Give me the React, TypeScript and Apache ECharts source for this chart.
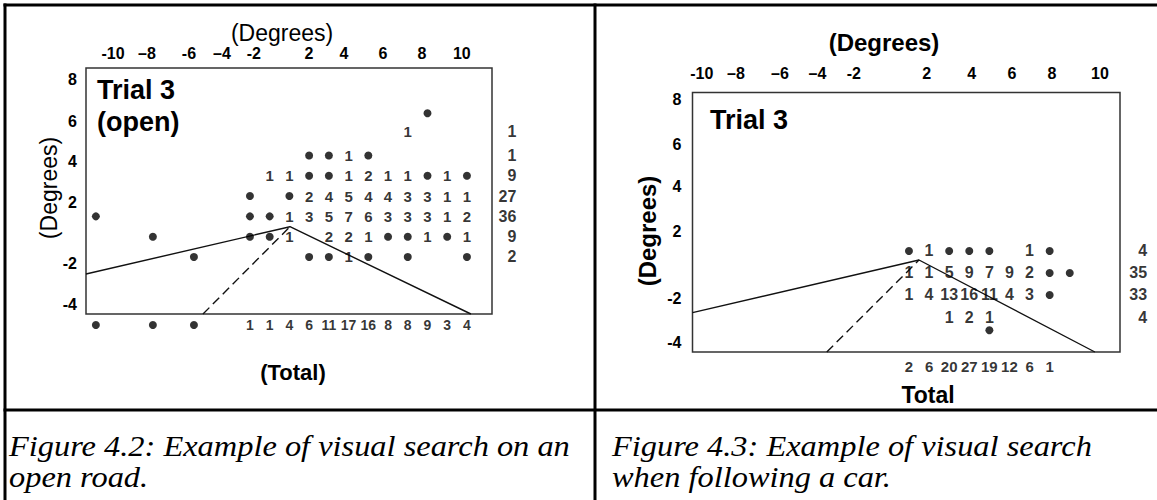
import React, { useEffect, useRef } from 'react';
import * as echarts from 'echarts';

const SANS = 'Liberation Sans, Arial, Helvetica, sans-serif';
const SERIF = 'Liberation Serif, Times New Roman, Times, serif';

// ---------------- Figure 4.2 : open road (left panel) ----------------
// x unit = one grid column, y unit = one grid row
const leftXTickLabels = ['-10', '–8', '-6', '–4', '-2', '2', '4', '6', '8', '10'];
const leftXTickPos = [-6.94, -5.22, -3.09, -1.42, 0.2, 2.99, 4.76, 6.74, 8.72, 10.74];
const leftYTickLabels = ['8', '6', '4', '2', '-2', '-4'];
const leftYTickPos = [7.72, 5.67, 3.69, 1.67, -1.31, -3.33];
const leftRowY = [6.08, 5.2, 4, 3, 2, 1, 0, -1];
// '•' = single fixation dot, '' = empty cell; columns 0..11
const leftCells = [
  ['', '', '', '', '', '', '', '', '', '•', '', ''],
  ['', '', '', '', '', '', '', '', '1', '', '', ''],
  ['', '', '', '•', '•', '1', '•', '', '', '', '', ''],
  ['', '1', '1', '•', '•', '1', '2', '1', '1', '•', '1', '•'],
  ['•', '', '•', '2', '4', '5', '4', '4', '3', '3', '1', '1'],
  ['•', '•', '1', '3', '5', '7', '6', '3', '3', '3', '1', '2'],
  ['•', '•', '1', '', '2', '2', '1', '•', '•', '1', '•', '1'],
  ['', '', '', '•', '•', '1', '•', '', '•', '', '', '•'],
];
const leftOuterCols = [-7.81, -4.92, -2.84];
const leftOuterRows = [1, 0, -1];
const leftRowTotals = ['1', '1', '9', '27', '36', '9', '2'];
const leftRowTotalY = [5.2, 4, 3, 2, 1, 0, -1];
const leftColTotals = ['1', '1', '4', '6', '11', '17', '16', '8', '8', '9', '3', '4'];
const leftRoadSolid = [[-8.31, -1.84], [2.03, 0.49], [11.2, -3.81]];
const leftRoadDashed = [[-2.38, -3.81], [2.03, 0.49]];
const leftRange = { xMin: -8.31, xMax: 12.27, yMin: -3.81, yMax: 8.31, rowTotalX: 13.53, colTotalY: -4.35 };

// ---------------- Figure 4.3 : following a car (right panel) ----------------
const rightXTickLabels = ['-10', '–8', '–6', '–4', '-2', '2', '4', '6', '8', '10'];
const rightXTickPos = [-10.31, -8.61, -6.42, -4.55, -2.74, 0.88, 3.12, 5.12, 7.11, 9.5];
const rightYTickLabels = ['8', '6', '4', '2', '-2', '-4'];
const rightYTickPos = [6.86, 4.82, 2.92, 0.88, -2.15, -4.15];
const rightRowY = [0, -1, -2, -3, -3.6];
const rightCells = [
  ['•', '1', '•', '•', '•', '', '1', '•', ''],
  ['1', '1', '5', '9', '7', '9', '2', '•', '•'],
  ['1', '4', '13', '16', '11', '4', '3', '•', ''],
  ['', '', '1', '2', '1', '', '', '', ''],
  ['', '', '', '', '•', '', '', '', ''],
];
const rightRowTotals = ['4', '35', '33', '4'];
const rightRowTotalY = [0, -1, -2, -3];
const rightColTotals = ['2', '6', '20', '27', '19', '12', '6', '1'];
const rightRoadSolid = [[-10.77, -2.8], [0.5, -0.41], [9.25, -4.59]];
const rightRoadDashed = [[-4.09, -4.59], [0.5, -0.41]];
const rightRange = { xMin: -10.77, xMax: 10.5, yMin: -4.59, yMax: 7.2, rowTotalX: 11.87, colTotalY: -5.23 };

const nearestLabel = (pos: number[], labels: string[]) => (v: number) => {
  let b = 0;
  for (let i = 1; i < pos.length; i++) if (Math.abs(pos[i] - v) < Math.abs(pos[b] - v)) b = i;
  return '{t|' + labels[b] + '}';
};

const tickFont = { color: '#000', fontFamily: SANS, fontWeight: 'bold' as const, fontSize: 16 };
const tickRich = { t: { color: '#000', fontFamily: SANS, fontWeight: 'bold', fontSize: 16, lineHeight: 17 } };

function buildPanel(gi: number, p: any) {
  const dots: number[][] = [];
  const nums: any[] = [];
  p.cells.forEach((row: string[], i: number) =>
    row.forEach((c, j) => {
      if (c === '•') dots.push([j, p.rowY[i]]);
      else if (c) nums.push({ name: c, value: [j, p.rowY[i]] });
    })
  );
  (p.outerCols || []).forEach((x: number, i: number) => {
    dots.push([x, p.outerRows[i]]);
    dots.push([x, p.range.colTotalY]);
  });
  const rowTotals = p.rowTotals.map((t: string, i: number) => ({ name: t, value: [p.range.rowTotalX, p.rowTotalY[i]] }));
  const colTotals = p.colTotals.map((t: string, j: number) => ({ name: t, value: [j, p.range.colTotalY] }));

  const xAxis = {
    type: 'value', gridIndex: gi, min: p.range.xMin, max: p.range.xMax, position: 'top',
    axisLine: { show: false }, axisTick: { show: false }, splitLine: { show: false },
    axisLabel: { ...tickFont, rich: tickRich, customValues: p.xPos, formatter: nearestLabel(p.xPos, p.xLabels), margin: p.xMargin },
  };
  const yAxis = {
    type: 'value', gridIndex: gi, min: p.range.yMin, max: p.range.yMax,
    axisLine: { show: false }, axisTick: { show: false }, splitLine: { show: false },
    axisLabel: { ...tickFont, rich: tickRich, customValues: p.yPos, formatter: nearestLabel(p.yPos, p.yLabels), margin: p.yMargin },
  };
  const common = { xAxisIndex: gi, yAxisIndex: gi, silent: true, clip: false, animation: false };
  const textSeries = (data: any[], size: number, position: any) => ({
    type: 'scatter', ...common, data, symbolSize: 1,
    itemStyle: { color: 'rgba(0,0,0,0)' },
    label: { show: true, position, distance: 0, formatter: '{b}', color: '#000', textBorderWidth: 0, fontFamily: SANS, fontWeight: 'bold', fontSize: size },
    z: 4,
  });
  const series = [
    { type: 'line', ...common, data: p.solid, symbol: 'none', lineStyle: { color: '#111', width: 1.4 }, z: 2 },
    { type: 'line', ...common, data: p.dashed, symbol: 'none', lineStyle: { color: '#111', width: 1.4, type: [9, 5] }, z: 2 },
    { type: 'scatter', ...common, data: dots, symbol: 'circle', symbolSize: 8, itemStyle: { color: '#000' }, z: 3 },
    textSeries(nums, p.numSize, 'inside'),
    textSeries(rowTotals, p.totSize, 'left'),
    textSeries(colTotals, p.colSize, 'inside'),
  ];
  return { xAxis, yAxis, series };
}

const t = (text: string, x: number, y: number, size: number, extra: any = {}, el: any = {}) => ({
  type: 'text', x, y, z: 20, silent: true, ...el,
  style: { text, fill: '#000', fontFamily: SANS, fontSize: size, align: 'center', verticalAlign: 'middle', ...extra },
});
const ln = (x1: number, y1: number, x2: number, y2: number) => ({
  type: 'line', z: 20, silent: true, shape: { x1, y1, x2, y2 }, style: { stroke: '#000', lineWidth: 3 },
});

export default function App() {
  const ref = useRef<HTMLDivElement>(null);
  useEffect(() => {
    const chart = echarts.init(ref.current!, null, { renderer: 'svg' });
    const L = buildPanel(0, {
      cells: leftCells, rowY: leftRowY, outerCols: leftOuterCols, outerRows: leftOuterRows,
      rowTotals: leftRowTotals, rowTotalY: leftRowTotalY, colTotals: leftColTotals,
      solid: leftRoadSolid, dashed: leftRoadDashed, range: leftRange,
      xPos: leftXTickPos, xLabels: leftXTickLabels, yPos: leftYTickPos, yLabels: leftYTickLabels,
      xMargin: 6, yMargin: 9, numSize: 15, totSize: 16, colSize: 14,
    });
    const R = buildPanel(1, {
      cells: rightCells, rowY: rightRowY,
      rowTotals: rightRowTotals, rowTotalY: rightRowTotalY, colTotals: rightColTotals,
      solid: rightRoadSolid, dashed: rightRoadDashed, range: rightRange,
      xPos: rightXTickPos, xLabels: rightXTickLabels, yPos: rightYTickPos, yLabels: rightYTickLabels,
      xMargin: 11, yMargin: 11, numSize: 16, totSize: 16, colSize: 15,
    });
    const gridStyle = { show: true, borderColor: '#333', borderWidth: 1.5, backgroundColor: 'transparent', containLabel: false, outerBoundsMode: 'none' };
    const option: any = {
      animation: false,
      backgroundColor: '#fff',
      textStyle: { fontFamily: SANS, fontSize: 15, fontWeight: 'bold', color: '#000' },
      grid: [
        { ...gridStyle, left: 86, top: 68, width: 406, height: 246 },
        { ...gridStyle, left: 692.5, top: 92.5, width: 427.5, height: 259.5 },
      ],
      xAxis: [L.xAxis, R.xAxis],
      yAxis: [L.yAxis, R.yAxis],
      series: [...L.series, ...R.series],
      graphic: [
        ln(3.5, 5, 1157, 5),
        ln(5, 3.5, 5, 500),
        ln(595, 3.5, 595, 500),
        ln(3.5, 410, 1157, 410),
        // left panel texts
        t('(Degrees)', 282, 33, 23),
        t('(Degrees)', 49, 188, 23, {}, { rotation: Math.PI / 2 }),
        t('Trial 3', 97, 90, 27, { align: 'left', fontWeight: 'bold' }),
        t('(open)', 97, 122, 27, { align: 'left', fontWeight: 'bold' }),
        t('(Total)', 293, 372, 22, { fontWeight: 'bold' }),
        // right panel texts
        t('(Degrees)', 884, 42, 24, { fontWeight: 'bold' }),
        t('(Degrees)', 647, 231, 24, { fontWeight: 'bold' }, { rotation: Math.PI / 2 }),
        t('Trial 3', 710, 120, 27, { align: 'left', fontWeight: 'bold' }),
        t('Total', 928, 395, 23, { fontWeight: 'bold' }),
        // captions
        t('Figure 4.2: Example of visual search on an', 9, 446, 30, { align: 'left', fontStyle: 'italic', fontFamily: SERIF }, { scaleX: 1.08 }),
        t('open road.', 9, 477, 30, { align: 'left', fontStyle: 'italic', fontFamily: SERIF }, { scaleX: 1.08 }),
        t('Figure 4.3: Example of visual search', 612, 446, 30, { align: 'left', fontStyle: 'italic', fontFamily: SERIF }, { scaleX: 1.08 }),
        t('when following a car.', 612, 477, 30, { align: 'left', fontStyle: 'italic', fontFamily: SERIF }, { scaleX: 1.08 }),
      ],
    };
    chart.setOption(option);
    return () => chart.dispose();
  }, []);
  return (
    <div
      ref={ref}
      style={{ position: 'absolute', left: 0, top: 0, width: 1157, height: 500, background: '#fff' }}
    />
  );
}
